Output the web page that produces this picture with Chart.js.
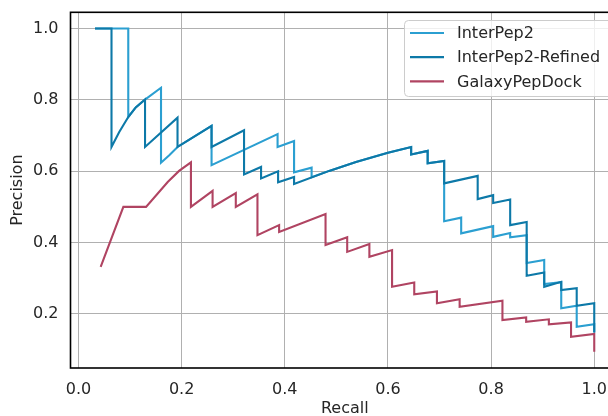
<!DOCTYPE html>
<html>
<head>
<meta charset="utf-8">
<script src="https://cdn.jsdelivr.net/npm/chart.js@4/dist/chart.umd.min.js"></script>
<style>
  html, body { margin: 0; padding: 0; background: #ffffff; overflow: hidden; width: 608px; height: 416px; }
  #wrap { position: absolute; left: 0; top: 0; width: 620px; height: 416px; }
</style>
</head>
<body>
<div id="wrap"><canvas id="c" width="620" height="416"></canvas></div>
<script>
// ---- data ----
const seriesNames = ["InterPep2", "InterPep2-Refined", "GalaxyPepDock"];
const xTicks = [0.0, 0.2, 0.4, 0.6, 0.8, 1.0];
const yTicks = [0.2, 0.4, 0.6, 0.8, 1.0];

const interpep2Recall = [0.032,0.0965,0.0965,0.111,0.129,0.16,0.16,0.176,0.192,0.258,0.258,0.321,0.386,0.386,0.418,0.418,0.452,0.452,0.486,0.538,0.6,0.645,0.645,0.677,0.677,0.709,0.709,0.742,0.742,0.804,0.804,0.837,0.837,0.869,0.869,0.903,0.903,0.936,0.936,0.966,0.966,1.0,1.0];
const interpep2Precision = [1.0,1.0,0.752,0.779,0.801,0.834,0.624,0.645,0.668,0.727,0.617,0.66,0.704,0.668,0.685,0.597,0.61,0.583,0.601,0.626,0.652,0.668,0.647,0.657,0.622,0.629,0.46,0.47,0.426,0.446,0.416,0.427,0.415,0.421,0.343,0.351,0.284,0.289,0.216,0.223,0.164,0.171,0.148];

const refinedRecall = [0.032,0.064,0.064,0.079,0.0965,0.111,0.129,0.129,0.192,0.192,0.258,0.258,0.321,0.321,0.354,0.354,0.387,0.387,0.418,0.418,0.486,0.538,0.6,0.645,0.645,0.677,0.677,0.709,0.709,0.774,0.774,0.804,0.804,0.837,0.837,0.869,0.869,0.903,0.903,0.936,0.936,0.966,0.966,1.0,1.0];
const refinedPrecision = [1.0,1.0,0.668,0.71,0.752,0.779,0.801,0.668,0.75,0.668,0.727,0.668,0.715,0.591,0.612,0.58,0.6,0.569,0.584,0.564,0.601,0.626,0.652,0.668,0.647,0.657,0.622,0.629,0.566,0.587,0.522,0.533,0.511,0.521,0.449,0.458,0.307,0.316,0.276,0.29,0.267,0.272,0.223,0.23,0.148];

const galaxyRecall = [0.043,0.087,0.131,0.173,0.195,0.218,0.218,0.26,0.26,0.305,0.305,0.347,0.347,0.389,0.389,0.479,0.479,0.521,0.521,0.564,0.564,0.608,0.608,0.651,0.651,0.695,0.695,0.739,0.739,0.822,0.822,0.868,0.868,0.912,0.912,0.955,0.955,1.0,1.0];
const galaxyPrecision = [0.332,0.5,0.5,0.57,0.601,0.625,0.5,0.545,0.5,0.539,0.5,0.535,0.421,0.449,0.43,0.48,0.393,0.415,0.374,0.396,0.36,0.379,0.276,0.288,0.255,0.263,0.23,0.241,0.22,0.237,0.183,0.19,0.178,0.185,0.171,0.176,0.136,0.144,0.094];

const colors = ["#2b9fd1", "#0d79a8", "#b04462"];

function pts(xs, ys) { return xs.map((x, i) => ({ x: x, y: ys[i] })); }

const FONT = "'DejaVu Sans', sans-serif";
const TEXT = "#262626";

const frameAndLegend = {
  id: 'frameAndLegend',
  afterDatasetsDraw(chart) {
    const ctx = chart.ctx, a = chart.chartArea;
    ctx.save();
    ctx.strokeStyle = "#000000";
    ctx.lineWidth = 1.6;
    ctx.strokeRect(a.left, a.top, a.right - a.left, a.bottom - a.top);
    ctx.restore();
  },
  afterDraw(chart) {
    const ctx = chart.ctx;
    ctx.save();
    const bx = 404.5, by = 20.5, bw = 210, bh = 76, r = 4;
    ctx.beginPath();
    ctx.moveTo(bx + r, by);
    ctx.lineTo(bx + bw - r, by);
    ctx.quadraticCurveTo(bx + bw, by, bx + bw, by + r);
    ctx.lineTo(bx + bw, by + bh - r);
    ctx.quadraticCurveTo(bx + bw, by + bh, bx + bw - r, by + bh);
    ctx.lineTo(bx + r, by + bh);
    ctx.quadraticCurveTo(bx, by + bh, bx, by + bh - r);
    ctx.lineTo(bx, by + r);
    ctx.quadraticCurveTo(bx, by, bx + r, by);
    ctx.closePath();
    ctx.fillStyle = "rgba(255,255,255,0.8)";
    ctx.fill();
    ctx.strokeStyle = "#cccccc";
    ctx.lineWidth = 1;
    ctx.stroke();
    chart.data.datasets.forEach((ds, i) => {
      const y = 33 + i * 24.2;
      ctx.strokeStyle = ds.borderColor;
      ctx.lineWidth = 2.2;
      ctx.beginPath();
      ctx.moveTo(410, y);
      ctx.lineTo(444, y);
      ctx.stroke();
      ctx.fillStyle = TEXT;
      ctx.font = "16px " + FONT;
      ctx.textBaseline = "middle";
      ctx.textAlign = "left";
      ctx.fillText(ds.label, 457, y + 1);
    });
    ctx.restore();
  }
};

new Chart(document.getElementById('c'), {
  type: 'line',
  data: {
    datasets: [
      { label: seriesNames[0], data: pts(interpep2Recall, interpep2Precision), borderColor: colors[0], order: 3 },
      { label: seriesNames[1], data: pts(refinedRecall, refinedPrecision), borderColor: colors[1], order: 2 },
      { label: seriesNames[2], data: pts(galaxyRecall, galaxyPrecision), borderColor: colors[2], order: 1 }
    ].map(d => Object.assign(d, { borderWidth: 2.1, pointRadius: 0, fill: false, tension: 0, backgroundColor: d.borderColor }))
  },
  options: {
    responsive: false,
    animation: false,
    parsing: true,
    layout: { padding: { left: 0, top: 12.3, right: 1, bottom: 0 } },
    plugins: { legend: { display: false }, tooltip: { enabled: false } },
    scales: {
      x: {
        type: 'linear',
        min: -0.0155,
        max: 1.048,
        afterBuildTicks: s => { s.ticks = xTicks.map(v => ({ value: v })); },
        afterFit: s => { s.height = 48; s.paddingLeft = 0; s.paddingRight = 0; },
        grid: { color: "#b0b0b0", lineWidth: 1, drawTicks: false },
        border: { display: false },
        ticks: { padding: 12, color: TEXT, font: { family: FONT, size: 16 }, callback: v => v.toFixed(1), maxRotation: 0 },
        title: { display: true, text: "Recall", color: TEXT, font: { family: FONT, size: 16 }, padding: { top: 0, bottom: -2 } }
      },
      y: {
        type: 'linear',
        min: 0.0485,
        max: 1.0455,
        afterBuildTicks: s => { s.ticks = yTicks.map(v => ({ value: v })); },
        afterFit: s => { s.width = 70.5; s.paddingTop = 0; s.paddingBottom = 0; },
        grid: { color: "#b0b0b0", lineWidth: 1, drawTicks: false },
        border: { display: false },
        ticks: { padding: 12, color: TEXT, font: { family: FONT, size: 16 }, callback: v => v.toFixed(1) },
        title: { display: true, text: "Precision", color: TEXT, font: { family: FONT, size: 16 }, padding: { top: 8, bottom: 0 } }
      }
    }
  },
  plugins: [frameAndLegend]
});
</script>
</body>
</html>
